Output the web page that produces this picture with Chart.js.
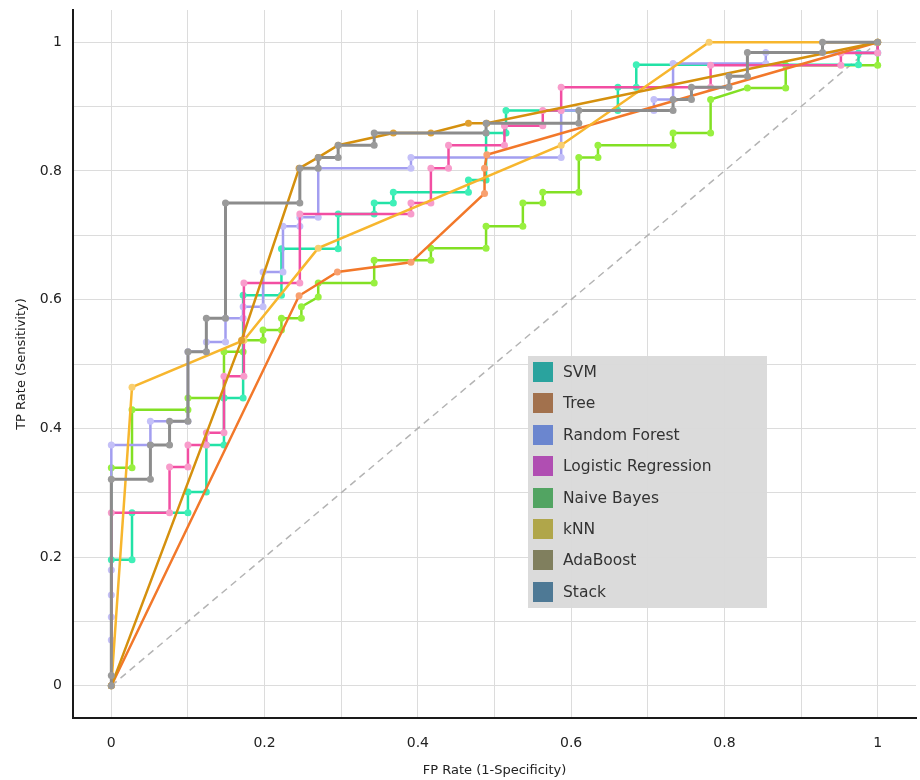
<!DOCTYPE html>
<html><head><meta charset="utf-8">
<script src="https://cdn.jsdelivr.net/npm/chart.js@4.4.0/dist/chart.umd.min.js"></script>
<style>
html,body{margin:0;padding:0;background:#fff;}
#wrap{position:relative;width:920px;height:780px;}
#legend{position:absolute;left:528px;top:356px;width:239px;height:252px;background:rgba(218,218,218,0.96);font-family:"DejaVu Sans",sans-serif;font-size:15.5px;color:#333;}
.item{position:absolute;left:5px;height:20px;display:flex;align-items:center;white-space:nowrap;}
.sw{width:20px;height:20px;margin-right:10px;flex:none;}
</style></head><body>
<div id="wrap"><canvas id="c" width="920" height="780"></canvas><div id="legend"></div></div>
<script>
// ---- data ----
const seriesNames = ['SVM','Tree','Random Forest','Logistic Regression','Naive Bayes','kNN','AdaBoost','Stack'];
const legendColors = ['#2aa39e','#a2714d','#6b86cf','#b04eb2','#52a462','#b0a64a','#807f5e','#4e7995'];
const lineColors  = ['#22e2a6','#f2782a','#a39ef0','#f24ea2','#82e024','#f7b62e','#d5900e','#8c8c8c'];
const pointColors = ['#3ff0b8','#f8a070','#c4c0f8','#f89ccb','#98f040','#f9cf70','#e0a030','#9a9a9a'];

const xTickLabels = ['0','0.2','0.4','0.6','0.8','1'];
const yTickLabels = ['0','0.2','0.4','0.6','0.8','1'];
const gridValues  = [0,0.1,0.2,0.3,0.4,0.5,0.6,0.7,0.8,0.9,1];

const svmFpr = [0,0,0.027,0.027,0.1,0.1,0.124,0.124,0.147,0.147,0.172,0.172,0.222,0.222,0.296,0.296,0.343,0.343,0.368,0.368,0.466,0.466,0.489,0.489,0.515,0.515,0.661,0.661,0.685,0.685,0.975,0.975,1,1];
const svmTpr = [0,0.196,0.196,0.269,0.269,0.301,0.301,0.374,0.374,0.447,0.447,0.607,0.607,0.679,0.679,0.733,0.733,0.75,0.75,0.767,0.767,0.786,0.786,0.859,0.859,0.894,0.894,0.93,0.93,0.965,0.965,0.983,0.983,1];

const treeFpr = [0,0.245,0.295,0.391,0.487,0.487,0.49,1];
const treeTpr = [0,0.606,0.643,0.658,0.765,0.804,0.825,1];

const rfFpr = [0,0,0,0,0,0,0.051,0.051,0.1,0.1,0.124,0.124,0.149,0.149,0.172,0.172,0.198,0.198,0.224,0.224,0.246,0.246,0.27,0.27,0.391,0.391,0.587,0.587,0.708,0.708,0.733,0.733,0.854,0.854,1,1];
const rfTpr = [0,0.071,0.107,0.141,0.18,0.374,0.374,0.411,0.411,0.519,0.519,0.534,0.534,0.571,0.571,0.589,0.589,0.643,0.643,0.714,0.714,0.728,0.728,0.804,0.804,0.821,0.821,0.894,0.894,0.911,0.911,0.967,0.967,0.984,0.984,1];

const lrFpr = [0,0,0.076,0.076,0.1,0.1,0.124,0.124,0.147,0.147,0.173,0.173,0.246,0.246,0.391,0.391,0.417,0.417,0.44,0.44,0.513,0.513,0.563,0.563,0.587,0.587,0.782,0.782,0.952,0.952,1,1];
const lrTpr = [0,0.269,0.269,0.34,0.34,0.374,0.374,0.393,0.393,0.481,0.481,0.626,0.626,0.733,0.733,0.75,0.75,0.804,0.804,0.84,0.84,0.87,0.87,0.894,0.894,0.93,0.93,0.964,0.964,0.983,0.983,1];

const nbFpr = [0,0,0.027,0.027,0.1,0.1,0.147,0.147,0.172,0.172,0.198,0.198,0.222,0.222,0.248,0.248,0.27,0.27,0.343,0.343,0.417,0.417,0.489,0.489,0.537,0.537,0.563,0.563,0.61,0.61,0.635,0.635,0.733,0.733,0.782,0.782,0.83,0.88,0.88,1,1];
const nbTpr = [0,0.339,0.339,0.429,0.429,0.447,0.447,0.519,0.519,0.537,0.537,0.553,0.553,0.571,0.571,0.589,0.604,0.626,0.626,0.661,0.661,0.68,0.68,0.714,0.714,0.75,0.75,0.767,0.767,0.821,0.821,0.84,0.84,0.859,0.859,0.911,0.929,0.929,0.964,0.964,1];

const knnFpr = [0,0.027,0.173,0.27,0.587,0.78,1];
const knnTpr = [0,0.464,0.537,0.68,0.84,1,1];

const adaFpr = [0,0.17,0.245,0.27,0.296,0.368,0.417,0.466,0.49,1];
const adaTpr = [0,0.537,0.804,0.821,0.84,0.859,0.859,0.874,0.874,1];

const stackFpr = [0,0,0,0.051,0.051,0.076,0.076,0.1,0.1,0.124,0.124,0.149,0.149,0.246,0.246,0.27,0.27,0.296,0.296,0.343,0.343,0.489,0.489,0.61,0.61,0.733,0.733,0.757,0.757,0.806,0.806,0.83,0.83,0.928,0.928,1];
const stackTpr = [0,0.016,0.321,0.321,0.374,0.374,0.411,0.411,0.519,0.519,0.571,0.571,0.75,0.75,0.804,0.804,0.821,0.821,0.84,0.84,0.859,0.859,0.874,0.874,0.894,0.894,0.911,0.911,0.93,0.93,0.947,0.947,0.984,0.984,1,1];

const chanceFpr = [0,1];
const chanceTpr = [0,1];

// ---- build ----
const seriesFpr = [svmFpr,treeFpr,rfFpr,lrFpr,nbFpr,knnFpr,adaFpr,stackFpr];
const seriesTpr = [svmTpr,treeTpr,rfTpr,lrTpr,nbTpr,knnTpr,adaTpr,stackTpr];
const pts = (xs,ys)=>xs.map((x,i)=>({x:x,y:ys[i]}));

// drawing order: first dataset is drawn on top
const drawOrder = [7,6,5,1,3,2,0,4];
const datasets = drawOrder.map(i=>({
  label: seriesNames[i],
  data: pts(seriesFpr[i], seriesTpr[i]),
  showLine: true,
  borderColor: lineColors[i],
  borderWidth: i===7 ? 3 : 2.5,
  pointRadius: 3.5,
  pointBorderWidth: 0,
  pointBackgroundColor: pointColors[i],
  tension: 0
}));
datasets.push({
  label: 'chance',
  data: pts(chanceFpr, chanceTpr),
  showLine: true,
  borderColor: '#b4b4b4',
  borderWidth: 1.5,
  borderDash: [7,5],
  pointRadius: 0
});

const lblX = v => { const k = Math.round(v*10); return k%2===0 ? xTickLabels[k/2] : ''; };
const lblY = v => { const k = Math.round(v*10); return k%2===0 ? yTickLabels[k/2] : ''; };
const FONT = '"DejaVu Sans", sans-serif';

new Chart(document.getElementById('c'), {
  type: 'scatter',
  data: { datasets },
  options: {
    responsive: false,
    animation: false,
    layout: { padding: { top: 10, right: 3, left: 0, bottom: 0 } },
    plugins: { legend: { display: false }, tooltip: { enabled: false } },
    scales: {
      x: {
        type: 'linear', min: -0.05, max: 1.05,
        afterBuildTicks: s => { s.ticks = gridValues.map(v=>({value:v})); },
        afterFit: s => { s.height = 62; s.paddingLeft = 0; s.paddingRight = 0; },
        ticks: { callback: v => lblX(v), autoSkip: false, maxRotation: 0, padding: 17, color: '#222', font: { family: FONT, size: 14 } },
        grid: { color: '#dcdcdc', lineWidth: 1, drawTicks: false },
        border: { display: true, color: '#1a1a1a', width: 2 },
        title: { display: true, text: 'FP Rate (1-Specificity)', color: '#222', font: { family: FONT, size: 13 }, padding: { top: 0, bottom: 2 } }
      },
      y: {
        type: 'linear', min: -0.05, max: 1.05,
        afterBuildTicks: s => { s.ticks = gridValues.map(v=>({value:v})); },
        afterFit: s => { s.width = 73; s.paddingTop = 0; s.paddingBottom = 0; },
        ticks: { callback: v => lblY(v), autoSkip: false, padding: 11, color: '#222', font: { family: FONT, size: 14 } },
        grid: { color: '#dcdcdc', lineWidth: 1, drawTicks: false },
        border: { display: true, color: '#1a1a1a', width: 2 },
        title: { display: true, text: 'TP Rate (Sensitivity)', color: '#222', font: { family: FONT, size: 13 }, padding: { top: 14, bottom: 0 } }
      }
    }
  }
});

// legend (HTML overlay, swatch colours as in the reference)
const leg = document.getElementById('legend');
seriesNames.forEach((n,i)=>{
  const d = document.createElement('div');
  d.className = 'item';
  d.style.top = (6 + i*31.4) + 'px';
  d.innerHTML = '<span class="sw" style="background:'+legendColors[i]+'"></span><span>'+n+'</span>';
  leg.appendChild(d);
});
</script>
</body></html>
